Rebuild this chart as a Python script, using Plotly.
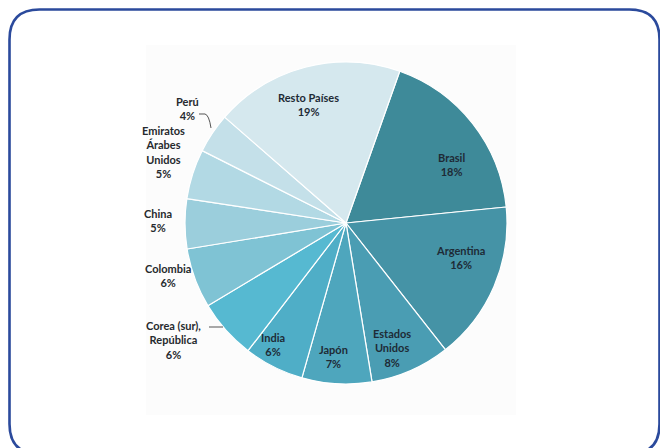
import plotly.graph_objects as go

# ---- data ----
paises = ["Brasil", "Argentina", "Estados<br>Unidos", "Japón", "India",
          "Corea (sur),<br>República", "Colombia", "China",
          "Emiratos<br>Árabes<br>Unidos", "Perú", "Resto Países"]
porcentajes = [18, 16, 8, 7, 6, 6, 6, 5, 5, 4, 19]
colores = ["#3e8a99", "#4593a6", "#4a9db3", "#4ea6bd", "#4faec7",
           "#56b9d1", "#7fc3d4", "#9bcedc", "#b2d9e4", "#c4e0e9", "#d5e8ee"]
dentro = [True, True, True, True, True, False, False, False, False, False, True]

W, H = 660, 448
def px(x):
    return x / W
def py(y):
    return 1 - y / H

cx, cy, r = 346, 223, 161

font_fam = "Lato"
txt_in = "#1e2b36"
txt_out = "#262a2e"

fig = go.Figure()
fig.add_trace(go.Pie(
    labels=paises,
    values=porcentajes,
    sort=False,
    direction="clockwise",
    rotation=19.5,
    marker=dict(colors=colores, line=dict(color="white", width=1.2)),
    textinfo="none",
    domain=dict(x=[px(cx - r), px(cx + r)], y=[py(cy + r), py(cy - r)]),
    showlegend=False,
    hoverinfo="label+percent",
))

# label anchor positions (pixels) for each slice label
pos_etiqueta = {
    "Brasil": (451, 164),
    "Argentina": (460, 257),
    "Estados<br>Unidos": (392, 348),
    "Japón": (333, 356),
    "India": (273, 344),
    "Corea (sur),<br>República": (173, 340),
    "Colombia": (168, 275),
    "China": (158, 220),
    "Emiratos<br>Árabes<br>Unidos": (163, 152),
    "Perú": (187, 108),
    "Resto Países": (308, 104),
}
annotations = []
for p, v, d in zip(paises, porcentajes, dentro):
    x, y = pos_etiqueta[p]
    annotations.append(dict(
        x=px(x), y=py(y), xref="paper", yref="paper",
        text=f"<b>{p}<br>{v}%</b>", showarrow=False,
        font=dict(family=font_fam, size=11, color=txt_in if d else txt_out),
        align="center", xanchor="center", yanchor="middle",
    ))

# rounded border (pixel coords converted to paper)
L, T, R, B, rad = 9.5, 9.5, 659.5, 454, 30
def P(x, y):
    return f"{px(x):.5f},{py(y):.5f}"
border = (f"M {P(L + rad, T)} L {P(R - rad, T)} Q {P(R, T)} {P(R, T + rad)} "
          f"L {P(R, B - rad)} Q {P(R, B)} {P(R - rad, B)} "
          f"L {P(L + rad, B)} Q {P(L, B)} {P(L, B - rad)} "
          f"L {P(L, T + rad)} Q {P(L, T)} {P(L + rad, T)} Z")

shapes = [
    dict(type="rect", xref="paper", yref="paper", layer="below",
         x0=px(146), x1=px(516), y0=py(415), y1=py(45),
         fillcolor="#fcfcfc", line=dict(width=0)),
    dict(type="path", xref="paper", yref="paper", path=border,
         line=dict(color="#2b4a9c", width=2.6)),
    # leader line Perú
    dict(type="path", xref="paper", yref="paper",
         path=f"M {P(199, 114)} L {P(205, 114)} Q {P(209, 115)} {P(211, 128)}",
         line=dict(color="#555555", width=1)),
    # leader line Corea
    dict(type="line", xref="paper", yref="paper",
         x0=px(209), x1=px(223), y0=py(327), y1=py(327),
         line=dict(color="#555555", width=1)),
]

fig.update_layout(
    width=W, height=H,
    margin=dict(l=0, r=0, t=0, b=0),
    paper_bgcolor="white",
    plot_bgcolor="white",
    annotations=annotations,
    shapes=shapes,
)

fig.write_html("out.html",
               config={"displayModeBar": False},
               post_script="document.body.style.margin='0';document.body.style.overflow='hidden';")
